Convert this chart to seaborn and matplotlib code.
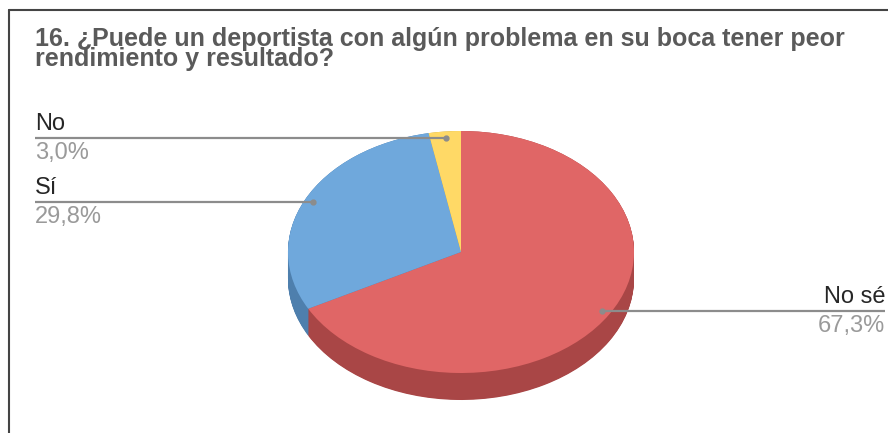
import matplotlib
matplotlib.use("Agg")
import matplotlib.pyplot as plt
from matplotlib.lines import Line2D
import seaborn as sns
import numpy as np

sns.set_theme(style="white")
plt.rcParams['font.family'] = ['Liberation Sans', 'DejaVu Sans']

# Survey answers, drawn clockwise from 12 o'clock
title_lines = ["16. ¿Puede un deportista con algún problema en su boca tener peor",
               "rendimiento y resultado?"]
categories = ["No sé", "Sí", "No"]
shares = [67.3, 29.8, 3.0]
pct_labels = ["67,3%", "29,8%", "3,0%"]
top_colors = ["#E06666", "#6FA8DC", "#FFD966"]
side_colors = ["#A94646", "#4E7FAD", "#C8A83E"]
label_side = ["right", "left", "left"]

W, H = 888, 433
fig = plt.figure(figsize=(W / 100, H / 100), dpi=100)
ax = fig.add_axes([0, 0, 1, 1])

# pixel geometry of the tilted disc
cx, cy, rx, ry, depth = 461, 252, 173, 121, 27


def X(px):
    return (px - cx) / rx


def Y(py):
    return (cy - py) / ry


# side wall: stacked darker discs, then the top face
for off in np.linspace(depth, 0, 45):
    ax.pie(shares, colors=side_colors, startangle=90, counterclock=False,
           center=(0, -off / ry), wedgeprops=dict(linewidth=0))
ax.pie(shares, colors=top_colors, startangle=90, counterclock=False,
       wedgeprops=dict(linewidth=0))
ax.set_aspect('auto')
ax.set_xlim(X(0), X(W))
ax.set_ylim(Y(H), Y(0))
ax.axis('off')

# leader lines and labels
line_col = "#8C8C8C"
cum = 0.0
total = sum(shares)
for name, val, pct, side in zip(categories, shares, pct_labels, label_side):
    mid = 90 - (cum + val / 2) / total * 360
    cum += val
    ex = 0.95 * np.cos(np.radians(mid))
    ey = 0.95 * np.sin(np.radians(mid))
    if side == "left":
        tx, ha = X(35), "left"
    else:
        tx, ha = X(885), "right"
    ax.plot([tx, ex], [ey, ey], color=line_col, lw=1.6, solid_capstyle='butt')
    ax.plot([ex], [ey], 'o', color=line_col, ms=3.5)
    ly = cy - ey * ry
    ax.text(tx, Y(ly - 8), name, ha=ha, va='baseline', fontsize=17, color="#262626")
    ax.text(tx, Y(ly + 21), pct, ha=ha, va='baseline', fontsize=17, color="#9A9A9A")

# title: two tightly spaced lines in one text block (anchored on the last baseline)
fig.text(35 / W, 1 - 66 / H, "\n".join(title_lines), ha='left', va='baseline',
         fontsize=18, fontweight='bold', color="#5A5A5A", linespacing=0.78,
         multialignment='left')

# chart frame (left and top edges)
fig.add_artist(Line2D([9 / W, 9 / W], [0, 1 - 10 / H], color="#444444", lw=1.5))
fig.add_artist(Line2D([9 / W, 1], [1 - 10 / H, 1 - 10 / H], color="#444444", lw=1.5))

fig.savefig("out.png", dpi=100, facecolor="white")
